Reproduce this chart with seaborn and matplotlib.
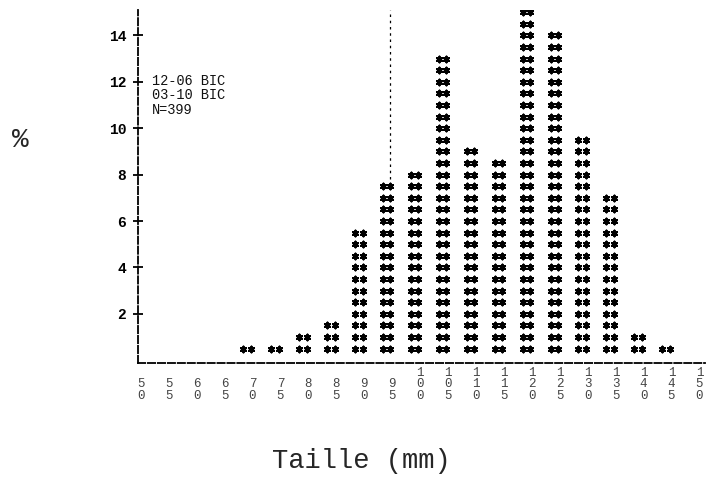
import matplotlib
matplotlib.use("Agg")
import matplotlib.pyplot as plt
import seaborn as sns
import pandas as pd

# Size classes (mm) and percentage of fish per class
sizes = [70, 75, 80, 85, 90, 95, 100, 105, 110, 115, 120, 125, 130, 135, 140, 145]
percent = [0.5, 0.5, 1.0, 1.5, 5.5, 7.5, 8.0, 13.0, 9.0, 8.5, 15.0, 14.0, 9.5, 7.0, 1.0, 0.5]

# Axis tick values
x_ticks = list(range(50, 155, 5))
y_ticks = list(range(2, 16, 2))

# Sample description
legend_lines = ["12-06 BIC", "03-10 BIC", "N=399"]

row_step = 0.5              # percent represented by one row of asterisks
col_offsets = [-1.65, -0.3]  # two asterisk columns per class

sns.set_style("white")
plt.rcParams["font.family"] = ["Liberation Mono", "DejaVu Sans Mono"]

# Long-form table: one record per printed asterisk
records = []
for s, p in zip(sizes, percent):
    n_rows = int(round(p / row_step))
    for k in range(1, n_rows + 1):
        for off in col_offsets:
            records.append({"taille": s + off, "pct": k * row_step})
df = pd.DataFrame(records)

fig = plt.figure(figsize=(7.12, 4.79), dpi=100)
ax = fig.add_axes([0.1938, 0.2422, 0.7963, 0.737])

sns.scatterplot(data=df, x="taille", y="pct", marker=(6, 2, 0), s=17,
                color="black", linewidth=1.5, ax=ax, legend=False)

# Dashed reference line above the 95 mm class
ax.plot([94.7, 94.7], [percent[sizes.index(95)] + 0.3, 15.1],
        color="black", lw=0.9, ls=(0, (2, 3)))

ax.set_xlim(49.5, 151)
ax.set_ylim(-0.12, 15.1)

for side in ("top", "right"):
    ax.spines[side].set_visible(False)
for side in ("left", "bottom"):
    ax.spines[side].set_linestyle((0, (4, 1.5)))
    ax.spines[side].set_linewidth(1.3)
    ax.spines[side].set_color("black")

ax.set_yticks(y_ticks)
ax.set_yticklabels([str(v) for v in y_ticks], fontweight="bold", fontsize=10.5)
ax.tick_params(axis="y", direction="inout", length=7, width=1.3, pad=5,
               colors="black", left=True)

ax.set_xticks(x_ticks)
ax.set_xticklabels(["\n".join(str(v)) for v in x_ticks], fontsize=9,
                   color="#444444", linespacing=0.95)
ax.tick_params(axis="x", length=0, pad=28)
for lbl in ax.get_xticklabels():
    lbl.set_verticalalignment("bottom")

ax.set_xlabel("")
ax.set_ylabel("")

ax.text(52.0, 12.35, "\n".join(legend_lines), fontsize=9.8, va="top",
        ha="left", linespacing=1.05, color="#111111")

fig.text(0.028, 0.708, "%", fontsize=20, ha="center", va="center")
fig.text(0.508, 0.038, "Taille (mm)", fontsize=19.5, ha="center", va="center")

fig.savefig("out.png", dpi=100)
